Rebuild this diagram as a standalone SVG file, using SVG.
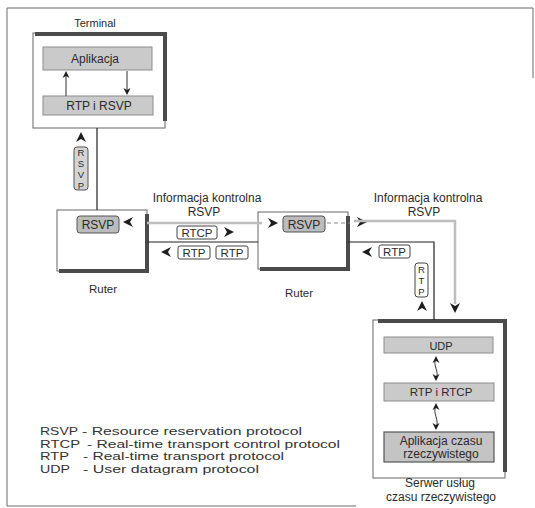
<svg xmlns="http://www.w3.org/2000/svg" width="535" height="508" viewBox="0 0 535 508">
  <style>
    text { font-family: "Liberation Sans", Arial, sans-serif; fill: #2b2b2b; }
    .c { text-anchor: middle; }
    .v { writing-mode: vertical-rl; text-orientation: upright; font-size: 9.5px; }
    .frame { fill: none; stroke: #6a6a6a; stroke-width: 1; }
    .box { fill: #fff; stroke: #666; stroke-width: 1; }
    .heavy { fill: none; stroke: #4b4b4b; stroke-width: 4; }
    .bar { fill: #cacaca; stroke: #8c8c8c; stroke-width: 1; }
    .app { fill: #c4c4c4; stroke: #555; stroke-width: 1.2; }
    .tag { fill: #fff; stroke: #444; stroke-width: 1; }
    .tagg { fill: #bcbcbc; stroke: #555; stroke-width: 1; }
    .wire { fill: none; stroke: #222; stroke-width: 1.2; }
    .ctl { fill: none; stroke: #bdbdbd; stroke-width: 2.5; }
    .thin { fill: none; stroke: #333; stroke-width: 1; }
    .dash { fill: none; stroke: #8a8a8a; stroke-width: 1; stroke-dasharray: 4 3; }
    .ch { fill: #1e1e1e; }
    .leg { font-size: 11px; fill: #333; }
  </style>
  <defs>
    <!-- bold notched arrowhead, pointing right, centred on origin -->
    <path id="chev" d="M-5,-5 L5,0 L-5,5 L-2,0 Z"/>
    <!-- small arrowhead, tip at origin, pointing up -->
    <path id="tip" d="M0,0 L-3.5,7 L0,5 L3.5,7 Z"/>
  </defs>

  <!-- page frame -->
  <path class="frame" d="M7,506 V8 H533 V78 M7,506 H356"/>

  <g id="terminal">
    <text class="c" x="95" y="27" font-size="11">Terminal</text>
    <rect class="box" x="33" y="33" width="132" height="95"/>
    <path class="heavy" d="M35,34 H165 V121"/>
    <rect class="bar" x="43" y="47" width="109" height="23"/>
    <text class="c" x="95" y="63" font-size="12">Aplikacja</text>
    <rect class="bar" x="43" y="96" width="110" height="19"/>
    <text class="c" x="99" y="110" font-size="12">RTP i RSVP</text>
    <path class="thin" d="M66,96 V74 M127,71 V92"/>
    <use href="#tip" class="ch" transform="translate(66,71)"/>
    <use href="#tip" class="ch" transform="translate(127,95) rotate(180)"/>
  </g>

  <g id="router-1">
    <rect class="box" x="57" y="210" width="90" height="61"/>
    <path class="heavy" d="M59,271 H147 V214"/>
    <rect class="tagg" x="77" y="216" width="42" height="17" rx="3"/>
    <text class="c" x="98" y="229" font-size="12">RSVP</text>
    <text class="c" x="103" y="293" font-size="11.5">Ruter</text>
  </g>

  <g id="router-2">
    <rect class="box" x="258" y="212" width="90" height="57"/>
    <path class="heavy" d="M260,269 H348 V216"/>
    <rect class="tagg" x="283" y="216" width="42" height="16" rx="3"/>
    <text class="c" x="304" y="229" font-size="12">RSVP</text>
    <text class="c" x="299" y="297" font-size="11.5">Ruter</text>
  </g>

  <g id="server">
    <rect class="box" x="373" y="320" width="132" height="158"/>
    <path class="heavy" d="M378,321 H505 V472"/>
    <rect class="bar" x="384" y="337" width="109" height="16"/>
    <text class="c" x="441" y="349.5" font-size="11">UDP</text>
    <rect class="bar" x="384" y="383" width="110" height="18"/>
    <text class="c" x="441" y="396" font-size="11.5">RTP i RTCP</text>
    <rect class="app" x="384" y="432" width="110" height="30"/>
    <text class="c" x="441" y="445" font-size="12">Aplikacja czasu</text>
    <text class="c" x="441" y="458" font-size="12">rzeczywistego</text>
    <path class="thin" d="M436,358 C432,365 440,372 436,379 M436,406 C432,413 440,421 436,427"/>
    <use href="#tip" class="ch" transform="translate(436,356)"/>
    <use href="#tip" class="ch" transform="translate(436,381) rotate(180)"/>
    <use href="#tip" class="ch" transform="translate(436,403)"/>
    <use href="#tip" class="ch" transform="translate(436,430) rotate(180)"/>
    <text class="c" x="440" y="487" font-size="12">Serwer usług</text>
    <text class="c" x="441" y="501" font-size="12">czasu rzeczywistego</text>
  </g>

  <g id="connectors">
    <!-- terminal to router 1 -->
    <path class="wire" d="M97,128 V210"/>
    <rect x="74" y="147" width="14" height="43" rx="3" fill="#d4d4d4" stroke="#555"/>
    <text class="v" x="81" y="147">RSVP</text>
    <use href="#chev" class="ch" transform="translate(81,137) rotate(-90)"/>

    <!-- RSVP control path -->
    <path class="ctl" d="M147,223 H262"/>
    <use href="#chev" class="ch" transform="translate(128,222) rotate(180)"/>
    <use href="#chev" class="ch" transform="translate(273,223)"/>
    <path class="dash" d="M327,223 H350"/>
    <use href="#chev" class="ch" transform="translate(362,222)"/>
    <path class="ctl" d="M354,221 H455 V304"/>
    <use href="#chev" class="ch" transform="translate(455,308) rotate(90)"/>
    <text class="c" x="207" y="202" font-size="12">Informacja kontrolna</text>
    <text class="c" x="204" y="216" font-size="12">RSVP</text>
    <text class="c" x="428" y="202" font-size="12">Informacja kontrolna</text>
    <text class="c" x="424" y="216" font-size="12">RSVP</text>

    <!-- data path router 1 - router 2 -->
    <path class="wire" d="M147,242 H258"/>
    <rect class="tag" x="177" y="226" width="40" height="13" rx="2"/>
    <text class="c" x="197" y="237" font-size="11.5">RTCP</text>
    <use href="#chev" class="ch" transform="translate(229,232)"/>
    <use href="#chev" class="ch" transform="translate(166,252) rotate(180)"/>
    <rect class="tag" x="178" y="246" width="32" height="13" rx="2"/>
    <text class="c" x="194" y="257" font-size="11.5">RTP</text>
    <rect class="tag" x="216" y="246" width="32" height="13" rx="2"/>
    <text class="c" x="232" y="257" font-size="11.5">RTP</text>

    <!-- data path router 2 - server -->
    <path class="wire" d="M348,242 H434 V320"/>
    <use href="#chev" class="ch" transform="translate(367,252) rotate(180)"/>
    <rect class="tag" x="379" y="245" width="31" height="13" rx="2"/>
    <text class="c" x="394.5" y="256" font-size="11.5">RTP</text>
    <rect class="tag" x="415" y="263" width="13" height="34" rx="3"/>
    <text class="v" x="421.5" y="263.5">RTP</text>
    <use href="#chev" class="ch" transform="translate(422,306) rotate(-90)"/>
  </g>

  <g id="legend">
    <text class="leg" x="40" y="435" textLength="38" lengthAdjust="spacingAndGlyphs">RSVP</text>
    <text class="leg" x="82" y="435" textLength="220" lengthAdjust="spacingAndGlyphs">- Resource reservation protocol</text>
    <text class="leg" x="40" y="447.5" textLength="40" lengthAdjust="spacingAndGlyphs">RTCP</text>
    <text class="leg" x="87" y="447.5" textLength="253" lengthAdjust="spacingAndGlyphs">- Real-time transport control protocol</text>
    <text class="leg" x="40" y="460" textLength="29" lengthAdjust="spacingAndGlyphs">RTP</text>
    <text class="leg" x="83" y="460" textLength="201" lengthAdjust="spacingAndGlyphs">- Real-time transport protocol</text>
    <text class="leg" x="40" y="472.5" textLength="30" lengthAdjust="spacingAndGlyphs">UDP</text>
    <text class="leg" x="83" y="472.5" textLength="176" lengthAdjust="spacingAndGlyphs">- User datagram protocol</text>
  </g>
</svg>
